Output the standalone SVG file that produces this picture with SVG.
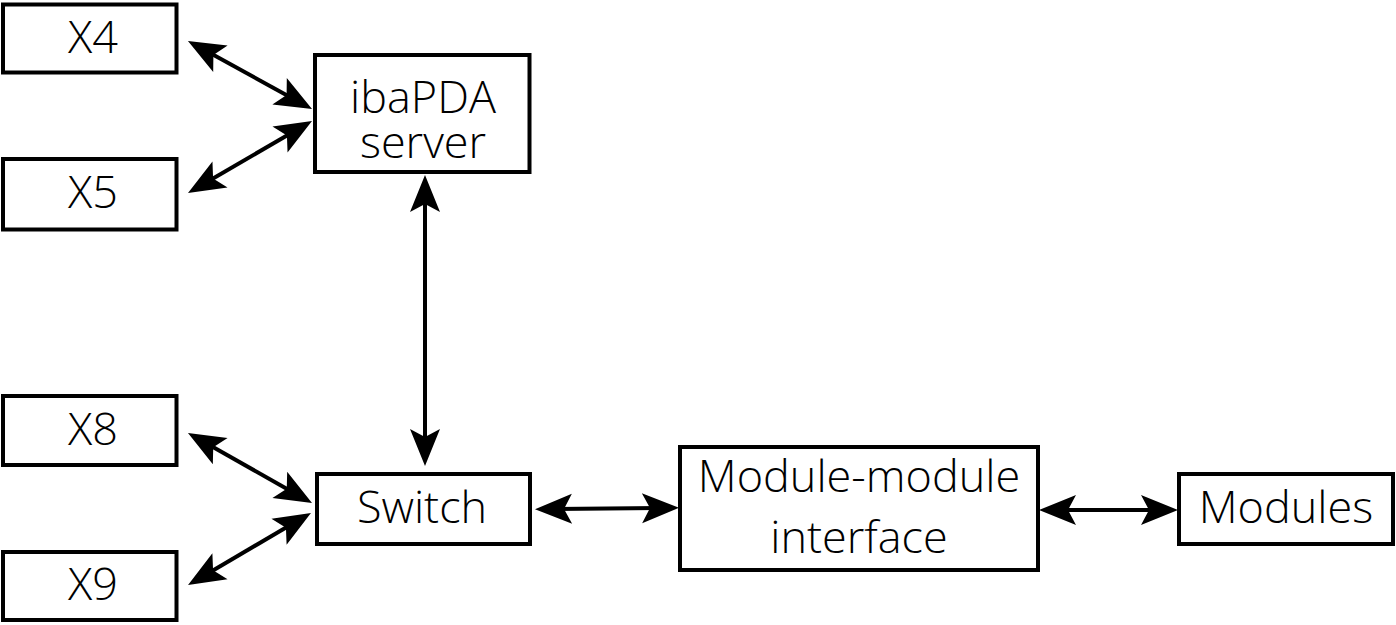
<svg xmlns="http://www.w3.org/2000/svg" width="1396" height="625" viewBox="0 0 1396 625">
<style>
.box{fill:#fff;stroke:#000;stroke-width:4}
.t{font-family:"Open Sans","Liberation Sans",sans-serif;font-weight:300;font-size:45px;fill:#000;text-anchor:middle}
.c{stroke:#000;stroke-width:4;fill:none;marker-start:url(#ah);marker-end:url(#ah)}
</style>
<defs>
<marker id="ah" markerUnits="userSpaceOnUse" viewBox="-20 -18 44 36" markerWidth="44" markerHeight="36" refX="0" refY="0" orient="auto-start-reverse">
<path d="M20,0 L-17,-15 L-9,0 L-17,15 Z" fill="#000"/>
</marker>
</defs>
<rect width="1396" height="625" fill="#fff"/>
<g id="connectors">
<line class="c" x1="205.5" y1="50.6" x2="294.5" y2="99.4"/>
<line class="c" x1="294.7" y1="131" x2="205.3" y2="183"/>
<line class="c" x1="205.4" y1="442.8" x2="294.6" y2="493.2"/>
<line class="c" x1="293.7" y1="523.1" x2="205.3" y2="574.9"/>
<line class="c" x1="425" y1="195" x2="425" y2="446"/>
<line class="c" x1="555" y1="509" x2="659" y2="508"/>
<line class="c" x1="1059" y1="510" x2="1158" y2="510"/>
</g>
<g id="x4"><rect class="box" x="3" y="4.5" width="173.5" height="68"/><text class="t" x="93" y="53">X4</text></g>
<g id="x5"><rect class="box" x="3" y="159" width="173.5" height="70.5"/><text class="t" x="93" y="208">X5</text></g>
<g id="ibapda"><rect class="box" x="315" y="55" width="214.5" height="117"/><text class="t" x="423" y="113">ibaPDA</text><text class="t" x="423" y="158">server</text></g>
<g id="x8"><rect class="box" x="3" y="396" width="173.5" height="69"/><text class="t" x="93" y="445">X8</text></g>
<g id="x9"><rect class="box" x="3" y="552" width="173.5" height="68"/><text class="t" x="93" y="600">X9</text></g>
<g id="switch"><rect class="box" x="317" y="474" width="213" height="70"/><text class="t" x="422" y="523">Switch</text></g>
<g id="mmi"><rect class="box" x="680" y="447" width="358" height="123"/><text class="t" x="859" y="492">Module-module</text><text class="t" x="859" y="553">interface</text></g>
<g id="modules"><rect class="box" x="1179" y="474" width="214" height="70"/><text class="t" x="1286" y="523">Modules</text></g>
</svg>
